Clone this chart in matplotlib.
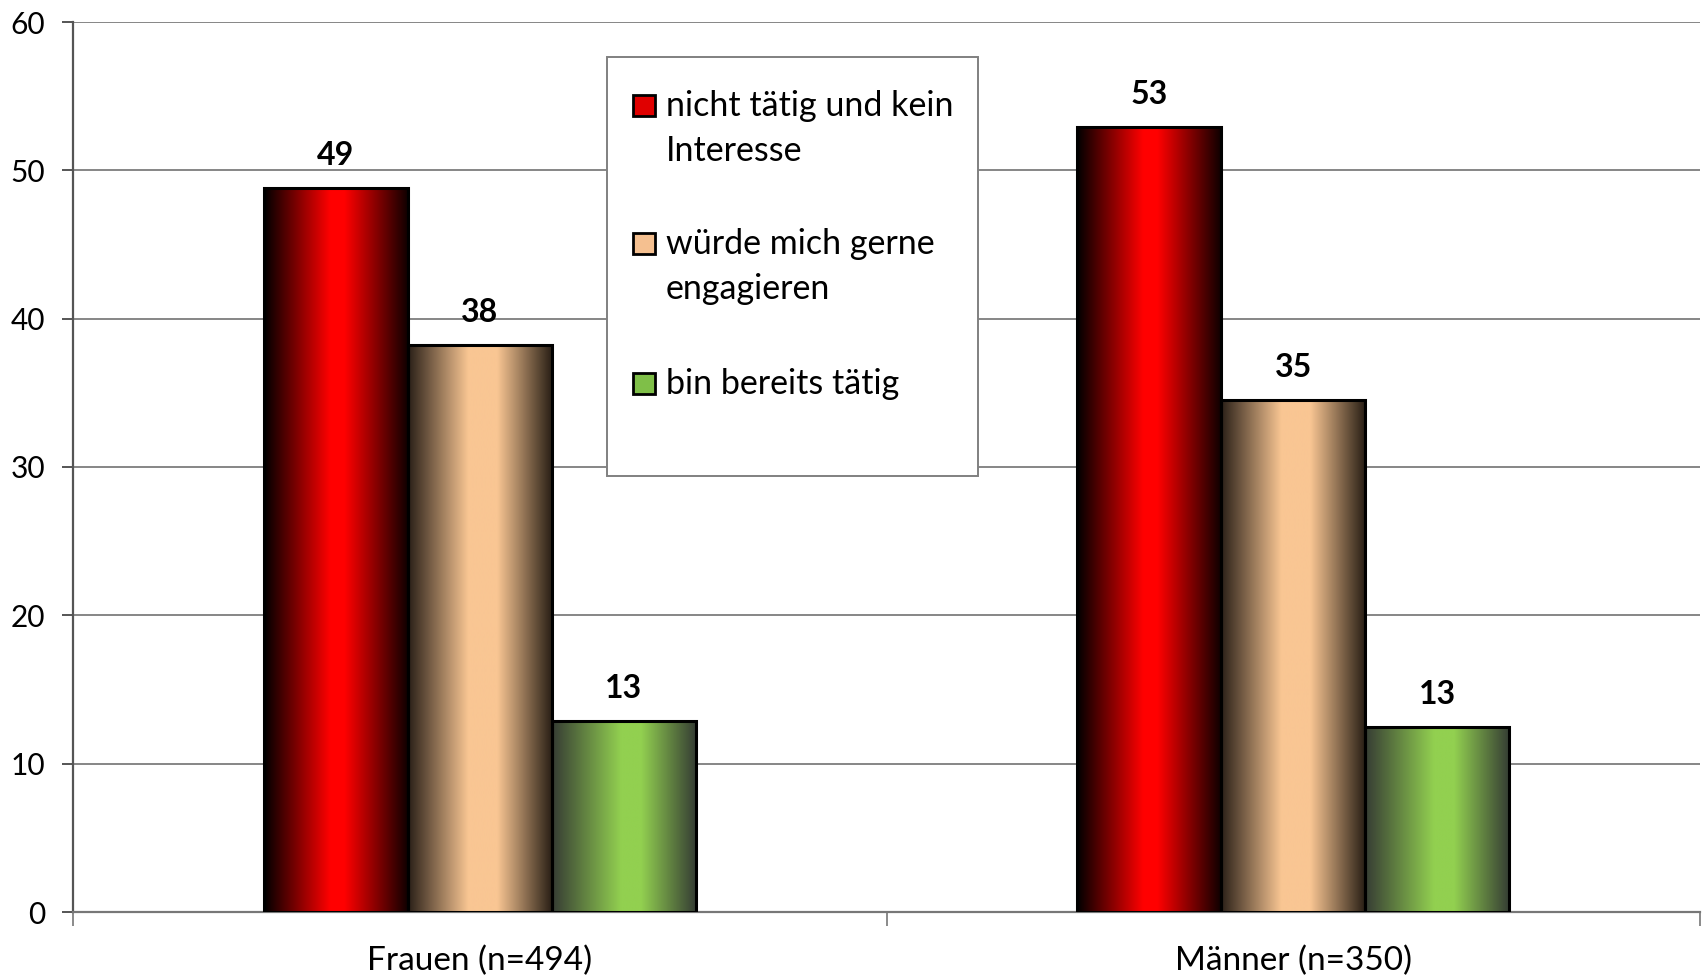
import numpy as np
import matplotlib
matplotlib.use("Agg")
import matplotlib.pyplot as plt
from matplotlib.colors import LinearSegmentedColormap
from matplotlib.patches import Rectangle

plt.rcParams['font.family'] = ['Lato', 'DejaVu Sans']

categories = ["Frauen (n=494)", "Männer (n=350)"]
series_names = ["nicht tätig und kein\nInteresse", "würde mich gerne\nengagieren", "bin bereits tätig"]
values = {
    "nicht tätig und kein\nInteresse": [48.8, 52.9],
    "würde mich gerne\nengagieren": [38.2, 34.5],
    "bin bereits tätig": [12.9, 12.5],
}
labels = {
    "nicht tätig und kein\nInteresse": ["49", "53"],
    "würde mich gerne\nengagieren": ["38", "35"],
    "bin bereits tätig": ["13", "13"],
}
y_ticks = [0, 10, 20, 30, 40, 50, 60]

grad_stops = [
    [(0.0, "#000000"), (0.46, "#ff0000"), (0.56, "#ff0000"), (1.0, "#100000")],
    [(0.0, "#2a2018"), (0.42, "#f9c693"), (0.62, "#f9c693"), (1.0, "#2a2016")],
    [(0.0, "#363c34"), (0.48, "#92d050"), (0.62, "#92d050"), (1.0, "#363e34")],
]
legend_colors = ["#e00000", "#f5c090", "#7fbf48"]

W, H = 1704, 980
fig = plt.figure(figsize=(W / 100, H / 100), dpi=100)
ax = fig.add_axes([73 / W, (H - 912) / H, (1700 - 73) / W, (912 - 22) / H])

n_cat = len(categories)
x = np.arange(n_cat)
bw = 0.177
grad = np.linspace(0, 1, 256).reshape(1, -1)

ax.set_xlim(-0.5, n_cat - 0.5)
ax.set_ylim(0, 60)

for i, name in enumerate(series_names):
    cmap = LinearSegmentedColormap.from_list(f"g{i}", grad_stops[i])
    offs = (i - 1) * bw
    bars = ax.bar(x + offs, values[name], width=bw, facecolor="none",
                  edgecolor="black", linewidth=2.2, zorder=4)
    for b, lab in zip(bars, labels[name]):
        bx, by = b.get_x(), b.get_y()
        bwid, bh = b.get_width(), b.get_height()
        im = ax.imshow(grad, extent=[bx, bx + bwid, by, by + bh], aspect="auto",
                       cmap=cmap, zorder=3, interpolation="bilinear")
        im.set_clip_path(b)
        ax.annotate(lab, (bx + bwid / 2, by + bh), xytext=(0, 13),
                    textcoords="offset points", ha="center", va="bottom",
                    fontsize=23, fontweight="bold", zorder=5)

ax.set_xlim(-0.5, n_cat - 0.5)
ax.set_ylim(0, 60)

ax.set_yticks(y_ticks)
ax.yaxis.grid(True, color="#868686", linewidth=1.4, zorder=0)
ax.set_axisbelow(True)
ax.tick_params(axis="y", length=8, width=1.4, color="#555555", labelsize=21.5, pad=12)
ax.set_xticks(x)
ax.set_xticklabels(categories, fontsize=24)
ax.set_xticks(np.arange(n_cat + 1) - 0.5, minor=True)
ax.tick_params(axis="x", which="major", length=0, pad=24)
ax.tick_params(axis="x", which="minor", length=10, width=1.2, color="#777777")
for s in ["top", "right"]:
    ax.spines[s].set_visible(False)
ax.spines["left"].set_color("#555555")
ax.spines["left"].set_linewidth(1.6)
ax.spines["bottom"].set_color("#777777")
ax.spines["bottom"].set_linewidth(1.6)

# legend box (pixel layout)
def px(xp, yp):
    return (xp / W, 1 - yp / H)

bx0, by0 = px(607, 476)
bx1, by1 = px(978, 57)
fig.patches.append(Rectangle((bx0, by0), bx1 - bx0, by1 - by0, transform=fig.transFigure,
                             facecolor="white", edgecolor="#808080", linewidth=1.4, zorder=10))
sq_top = [95, 233, 373]
line_step = 45
for i, name in enumerate(series_names):
    sx, sy = px(633, sq_top[i] + 21)
    fig.patches.append(Rectangle((sx, sy), 22 / W, 21 / H, transform=fig.transFigure,
                                 facecolor=legend_colors[i], edgecolor="black",
                                 linewidth=2, zorder=11))
    for j, line in enumerate(name.split("\n")):
        tx, ty = px(666, sq_top[i] + 21 + j * line_step)
        fig.text(tx, ty, line, ha="left", va="baseline", fontsize=24.5, zorder=12)

fig.savefig("out.png", dpi=100)
